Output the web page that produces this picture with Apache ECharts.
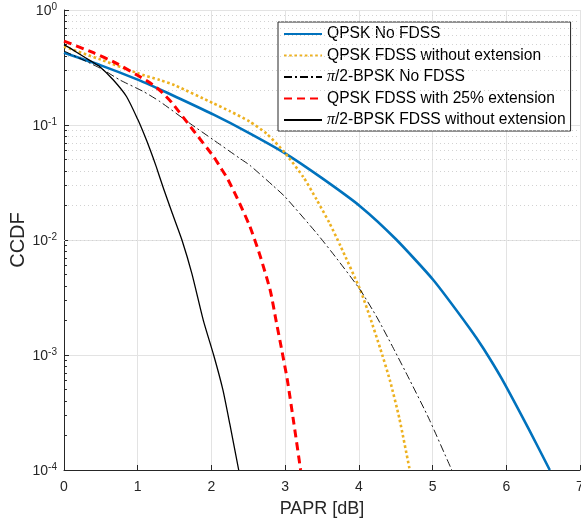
<!DOCTYPE html>
<html><head><meta charset="utf-8">
<script src="https://cdn.jsdelivr.net/npm/echarts@6/dist/echarts.min.js"></script>
<style>html,body{margin:0;padding:0;background:#fff}#c{width:581px;height:522px}</style>
</head><body><div id="c"></div>
<script>
// ---- data (x = PAPR [dB], y = CCDF) ----
const qpskNoFdss = [[0,0.425],[0.5,0.33],[1.0,0.248],[1.3,0.204],[1.5,0.178],[2.03,0.123],[2.5,0.086],[3.0,0.0567],[3.5,0.0345],[4.02,0.0196],[4.5,0.0102],[5.01,0.00449],[5.5,0.00172],[5.69,0.00114],[5.94,6.2e-4],[6.3,2.3e-4],[6.59,1e-4]];
const qpskFdssNoExt = [[0,0.48],[0.5,0.37],[1.0,0.282],[1.3,0.246],[1.5,0.222],[2.03,0.154],[2.25,0.132],[2.52,0.107],[2.75,0.084],[3.0,0.057],[3.25,0.035],[3.43,0.0223],[3.6,0.0141],[3.75,0.0089],[4.02,0.00367],[4.15,0.00214],[4.29,0.00114],[4.42,6.06e-4],[4.55,2.8e-4],[4.69,1e-4]];
const bpskNoFdss = [[0,0.44],[0.5,0.31],[0.76,0.246],[1.08,0.195],[1.3,0.16],[1.71,0.103],[2.03,0.074],[2.39,0.051],[2.52,0.0447],[2.84,0.0295],[3.0,0.0237],[3.43,0.0114],[3.7,0.0069],[4.02,0.00367],[4.25,0.0021],[4.47,0.00114],[4.69,6.06e-4],[4.95,2.8e-4],[5.26,1e-4]];
const qpskFdss25Ext = [[0,0.537],[0.4,0.425],[0.7,0.347],[0.99,0.272],[1.15,0.237],[1.3,0.2],[1.46,0.157],[1.75,0.0905],[2.03,0.053],[2.12,0.043],[2.22,0.034],[2.38,0.021],[2.52,0.0132],[2.66,0.0073],[2.8,0.0036],[2.87,0.0021],[2.95,0.00114],[3.03,6.06e-4],[3.12,2.5e-4],[3.21,1e-4]];
const bpskFdssNoExt = [[0,0.5],[0.11,0.455],[0.22,0.41],[0.35,0.365],[0.49,0.32],[0.67,0.246],[0.85,0.176],[1.0,0.112],[1.08,0.085],[1.17,0.0607],[1.25,0.0437],[1.35,0.028],[1.47,0.017],[1.6,0.01],[1.735,0.0051],[1.89,0.002],[2.03,0.001],[2.155,5e-4],[2.25,2.5e-4],[2.37,1e-4]];

const seriesNames = ['QPSK No FDSS','QPSK FDSS without extension','π/2-BPSK No FDSS','QPSK FDSS with 25% extension','π/2-BPSK FDSS without extension'];
const xTicks = [0,1,2,3,4,5,6,7];
const yTickExponents = [-4,-3,-2,-1,0];
const minorMantissas = [2,3,4,5,6,7,8,9];

// ---- helpers ----
const FONT = 'Liberation Sans, Arial, Helvetica, sans-serif';
const AX = '#262626';
const minorValues = [];
for (let i = 0; i < yTickExponents.length - 1; i++) {
  for (const m of minorMantissas) minorValues.push(m * Math.pow(10, yTickExponents[i]));
}
const minorGrid = minorValues.map(v => ({ yAxis: v }));
const minorTicks = minorValues.map(v => [{ coord: [xTicks[0], v] }, { coord: [xTicks[0] + 0.04, v] }]);

const chart = echarts.init(document.getElementById('c'), null, { renderer: 'canvas' });
function mkSeries(name, data, color, width, type, z) {
  return {
    name, type: 'line', data, showSymbol: false, symbol: 'circle', symbolSize: 0,
    smooth: 0.2, z,
    lineStyle: { color, width, type, cap: 'butt', join: 'round' }, itemStyle: { color },
    emphasis: { disabled: true }, animation: false
  };
}
const option = {
  animation: false,
  backgroundColor: '#fff',
  grid: { left: 64, right: 1, top: 10, bottom: 52, containLabel: false, outerBoundsMode: 'none' },
  xAxis: {
    type: 'value', min: xTicks[0], max: xTicks[xTicks.length - 1], interval: 1,
    name: 'PAPR [dB]', nameLocation: 'middle', nameGap: 30, nameMoveOverlap: false,
    nameTextStyle: { fontSize: 18, color: AX, fontFamily: FONT },
    axisLine: { show: true, lineStyle: { color: AX, width: 1 } },
    axisTick: { show: true, inside: true, length: 5, lineStyle: { color: AX } },
    axisLabel: { fontSize: 14, color: AX, fontFamily: FONT, margin: 10, showMaxLabel: true, showMinLabel: true, hideOverlap: false },
    splitLine: { show: true, lineStyle: { color: '#e3e3e3', width: 1 } }
  },
  yAxis: {
    type: 'log', logBase: 10, min: Math.pow(10, yTickExponents[0]), max: Math.pow(10, yTickExponents[yTickExponents.length - 1]),
    name: 'CCDF', nameLocation: 'middle', nameGap: 36, nameRotate: 90, nameMoveOverlap: false,
    nameTextStyle: { fontSize: 20, color: AX, fontFamily: FONT },
    axisLine: { show: true, lineStyle: { color: AX, width: 1 } },
    axisTick: { show: true, inside: true, length: 5, lineStyle: { color: AX } },
    splitLine: { show: true, lineStyle: { color: '#e3e3e3', width: 1 } },
    axisLabel: {
      margin: 7, color: AX, fontFamily: FONT, hideOverlap: false,
      formatter: v => { const e = Math.round(Math.log10(v)); return '{b|10}{s|' + (e < 0 ? '-' : '') + Math.abs(e) + '}'; },
      rich: {
        b: { fontSize: 14, lineHeight: 16, verticalAlign: 'bottom', color: AX, fontFamily: FONT },
        s: { fontSize: 10, lineHeight: 10, verticalAlign: 'top', color: AX, fontFamily: FONT }
      }
    }
  },
  legend: {
    data: seriesNames, orient: 'vertical', left: 278, top: 22,
    padding: [4, 5, 3, 5], itemGap: 5.5, itemWidth: 38, itemHeight: 14,
    backgroundColor: '#fff', borderColor: AX, borderWidth: 1, borderRadius: 0,
    selectedMode: false,
    itemStyle: { opacity: 0, borderWidth: 0 },
    textStyle: {
      fontSize: 15.6, color: '#000', fontFamily: FONT,
      rich: { pi: { fontSize: 16, fontStyle: 'italic', fontFamily: 'Liberation Serif, DejaVu Serif, serif', color: '#000' } }
    },
    formatter: n => n.replace('π', '{pi|π}')
  },
  series: [
    {
      name: '_grid', type: 'line', data: [], silent: true, z: 1,
      markLine: {
        silent: true, symbol: ['none', 'none'], label: { show: false }, animation: false,
        lineStyle: { color: '#d2d2d2', width: 1, type: [1, 3] },
        data: minorGrid
      }
    },
    {
      name: '_ticks', type: 'line', data: [], silent: true, z: 3,
      markLine: {
        silent: true, symbol: ['none', 'none'], label: { show: false }, animation: false,
        lineStyle: { color: AX, width: 1, type: 'solid' },
        data: minorTicks
      }
    },
    mkSeries(seriesNames[0], qpskNoFdss, '#0072BD', 2.6, 'solid', 5),
    mkSeries(seriesNames[1], qpskFdssNoExt, '#EDB120', 2.6, [2.6, 2.6], 6),
    mkSeries(seriesNames[2], bpskNoFdss, '#000000', 0.9, [8, 3, 2, 3], 7),
    mkSeries(seriesNames[3], qpskFdss25Ext, '#FF0000', 3, [8, 5], 8),
    mkSeries(seriesNames[4], bpskFdssNoExt, '#000000', 1.3, 'solid', 9)
  ]
};
chart.setOption(option);
</script>
</body></html>
